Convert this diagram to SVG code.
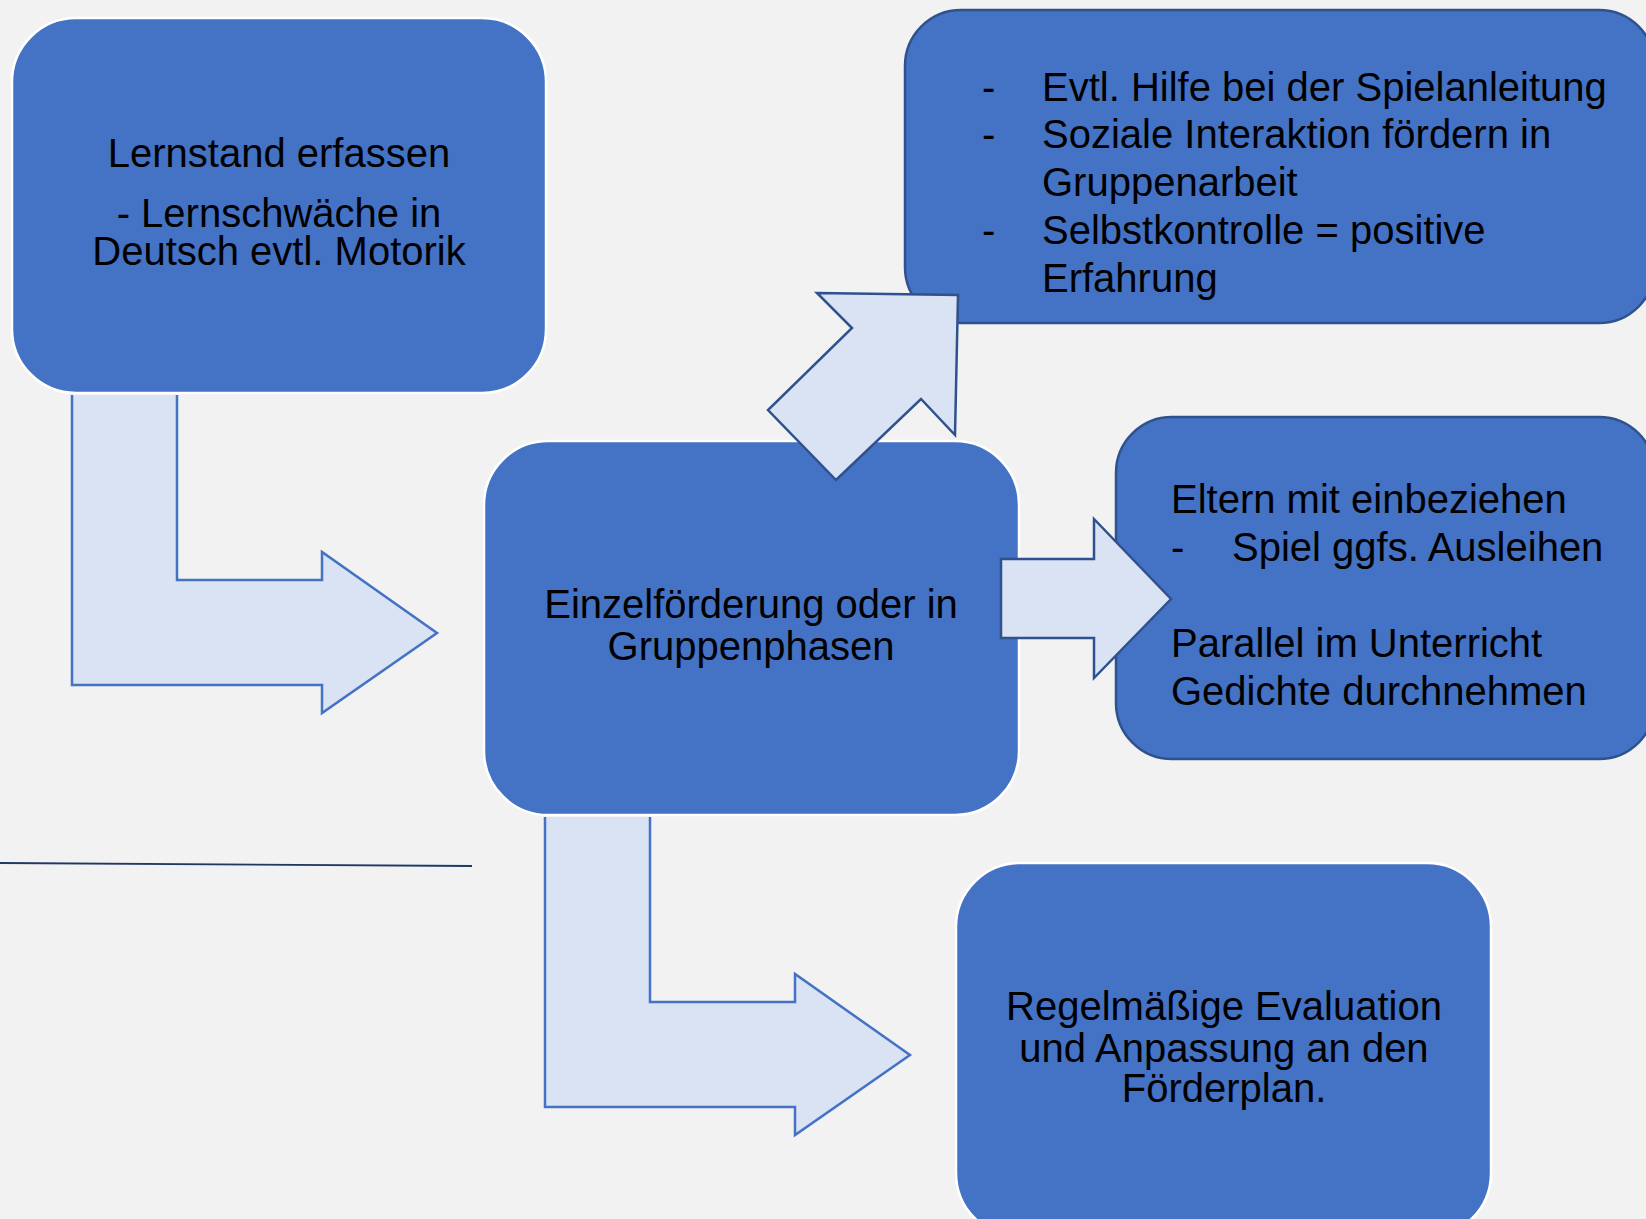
<svg xmlns="http://www.w3.org/2000/svg" xmlns:xlink="http://www.w3.org/1999/xlink" width="1646" height="1219" viewBox="0 0 1646 1219">
  <style>
    .box-w { fill: #4472C4; stroke: #FFFFFF; stroke-width: 2.5; }
    .box-d { fill: #4472C4; stroke: #2F528F; stroke-width: 2.5; }
    .t { font-family: "Liberation Sans", Arial, sans-serif; font-size: 40px; fill: #000000; }
    .c { text-anchor: middle; }
    .arr-d { fill: #DAE3F3; stroke: #2F528F; stroke-width: 2.5; stroke-linejoin: miter; }
  </style>
  <defs>
    <g id="bent">
      <path d="M0,0 H105 V185 H250 V157 L365,238 L250,318 V290 H0 Z" fill="#DAE3F3"/>
      <path d="M105,0 V185 H250 V157 L365,238 L250,318 V290 H0 V0" fill="none" stroke="#4472C4" stroke-width="2.5" stroke-linejoin="miter"/>
    </g>
  </defs>
  <rect width="1646" height="1219" fill="#F2F2F2"/>

  <g id="node-lernstand">
    <rect class="box-w" x="12" y="18" width="534" height="375" rx="64" ry="64"/>
    <text class="t c" x="279" y="167">Lernstand erfassen</text>
    <text class="t c" x="279" y="227">- Lernschwäche in<tspan x="279" y="265">Deutsch evtl. Motorik</tspan></text>
  </g>

  <g id="node-einzel">
    <rect class="box-w" x="484" y="441" width="535" height="374" rx="64" ry="64"/>
    <text class="t c" x="751" y="618">Einzelförderung oder in<tspan x="751" y="660">Gruppenphasen</tspan></text>
  </g>

  <g id="node-hilfe">
    <rect class="box-d" x="905" y="10" width="750" height="313" rx="56" ry="56"/>
    <text class="t" x="982" y="101">-</text>
    <text class="t" x="1042" y="101">Evtl. Hilfe bei der Spielanleitung</text>
    <text class="t" x="982" y="148">-</text>
    <text class="t" x="1042" y="148">Soziale Interaktion fördern in</text>
    <text class="t" x="1042" y="196">Gruppenarbeit</text>
    <text class="t" x="982" y="244">-</text>
    <text class="t" x="1042" y="244">Selbstkontrolle = positive</text>
    <text class="t" x="1042" y="292">Erfahrung</text>
  </g>

  <g id="node-eltern">
    <rect class="box-d" x="1116" y="417" width="539" height="342" rx="56" ry="56"/>
    <text class="t" x="1171" y="513">Eltern mit einbeziehen</text>
    <text class="t" x="1171" y="561">-</text>
    <text class="t" x="1232" y="561">Spiel ggfs. Ausleihen</text>
    <text class="t" x="1171" y="657">Parallel im Unterricht</text>
    <text class="t" x="1171" y="705">Gedichte durchnehmen</text>
  </g>

  <g id="node-evaluation">
    <rect class="box-w" x="956" y="863" width="535" height="374" rx="64" ry="64"/>
    <text class="t c" x="1224" y="1020">Regelmäßige Evaluation<tspan x="1224" y="1062">und Anpassung an den</tspan><tspan x="1224" y="1102">Förderplan.</tspan></text>
  </g>

  <g id="connectors">
    <use xlink:href="#bent" x="72" y="395"/>
    <use xlink:href="#bent" x="545" y="817"/>
    <polygon class="arr-d" points="817,293 958,295 955,435 921,399 836,480 768,410 852,328"/>
    <polygon class="arr-d" points="1001,559 1094,559 1094,519 1171,599 1094,678 1094,638 1001,638"/>
    <line x1="0" y1="863" x2="472" y2="866" stroke="#1F3864" stroke-width="1.8"/>
  </g>
</svg>
